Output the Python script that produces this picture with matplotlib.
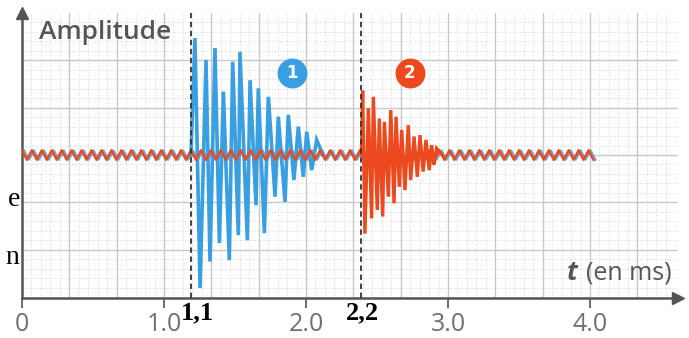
import numpy as np
import matplotlib.pyplot as plt

# sound 1 (blue) : peak times in ms and amplitudes (grid units)
blue_pos_t = [1.218, 1.296, 1.359, 1.418, 1.484, 1.535, 1.606, 1.664, 1.735, 1.805, 1.875, 1.946, 2.005, 2.075]
blue_pos_a = [2.47, 2.01, 2.26, 1.34, 1.97, 2.18, 1.58, 1.41, 1.23, 0.81, 0.85, 0.60, 0.49, 0.32]
blue_neg_t = [1.254, 1.324, 1.390, 1.460, 1.523, 1.587, 1.648, 1.707, 1.782, 1.852, 1.915, 1.981, 2.040]
blue_neg_a = [-2.81, -2.25, -1.86, -2.22, -1.69, -1.80, -1.06, -1.65, -0.88, -0.99, -0.53, -0.46, -0.32]

# sound 2 (red)
red_pos_t = [2.399, 2.439, 2.474, 2.516, 2.552, 2.597, 2.634, 2.674, 2.720, 2.761, 2.803, 2.845, 2.885, 2.920]
red_pos_a = [1.36, 0.99, 1.23, 0.77, 0.70, 0.95, 0.81, 0.53, 0.63, 0.39, 0.42, 0.32, 0.21, 0.14]
red_neg_t = [2.415, 2.462, 2.502, 2.540, 2.580, 2.620, 2.657, 2.697, 2.737, 2.784, 2.825, 2.868, 2.901]
red_neg_a = [-1.66, -1.34, -1.16, -1.30, -0.88, -1.02, -0.67, -0.74, -0.53, -0.46, -0.35, -0.32, -0.21]

burst_start = [1.19, 2.39]
burst_end = [2.12, 2.96]
# background hum
hum_period = 0.07
hum_amp = 0.1
hum_end = 4.06

xtick_vals = [0, 1, 2, 3, 4]
xtick_labels = ["0", "1.0", "2.0", "3.0", "4.0"]
marks = [1.19, 2.39]
mark_labels = ["1,1", "2,2"]
mark_label_x = [1.232, 2.394]

blue = "#3a9fe0"
red = "#ec4a1e"
grey = "#555555"


def burst(t0, t1, pt, pa, nt, na):
    t = np.array([t0] + pt + nt + [t1])
    a = np.array([0] + pa + na + [0])
    o = np.argsort(t)
    return t[o], a[o]


fig = plt.figure(figsize=(6.89, 3.38), dpi=100)
ax = fig.add_axes([22 / 689, 40 / 338, 656 / 689, 285 / 338])
ax.set_xlim(0, 656 / 142)
ax.set_ylim(-3.02, 3.0)

# squared paper
for x in np.arange(0, 4.6, 1 / 15):
    ax.axvline(x, color="#cccccc", lw=0.6, ls=(0, (1, 2)), zorder=0)
for y in np.arange(-3, 2.95, 0.2):
    ax.axhline(y, color="#cccccc", lw=0.6, ls=(0, (1, 2)), zorder=0)
for x in np.arange(1 / 3, 4.6, 1 / 3):
    ax.axvline(x, color="#c8c8c8", lw=1.0, zorder=0)
for y in [-2, -1, 0, 1, 2]:
    ax.axhline(y, color="#c8c8c8", lw=1.0, zorder=0)

# hum
n = int(hum_end / (hum_period / 2))
ht = np.arange(n + 1) * hum_period / 2
ha = np.tile([hum_amp, -hum_amp], n // 2 + 1)[: n + 1]
ax.plot(ht + 0.015, ha, color=blue, lw=1.4, alpha=0.8, zorder=2)

bt, ba = burst(burst_start[0], burst_end[0], blue_pos_t, blue_pos_a, blue_neg_t, blue_neg_a)
ax.plot(bt, ba, color=blue, lw=2.6, zorder=3, solid_joinstyle="miter")
ax.plot(ht, ha, color=red, lw=1.8, zorder=4)
rt, ra = burst(burst_start[1], burst_end[1], red_pos_t, red_pos_a, red_neg_t, red_neg_a)
ax.plot(rt, ra, color=red, lw=2.4, zorder=5, solid_joinstyle="miter")

for m in marks:
    ax.axvline(m, color="#333333", lw=1.3, ls=(0, (3, 2)), zorder=6)

# numbered circles
ax.scatter([1.90], [1.73], s=420, color=blue, zorder=7)
ax.scatter([2.73], [1.73], s=420, color=red, zorder=7)
ax.text(1.90, 1.73, "1", color="white", fontsize=12, fontweight="bold", ha="center", va="center", zorder=8)
ax.text(2.73, 1.73, "2", color="white", fontsize=12, fontweight="bold", ha="center", va="center", zorder=8)

# axes with arrows
for s in ax.spines.values():
    s.set_visible(False)
ax.plot([0, 1], [0, 0], transform=ax.transAxes, color=grey, lw=1.8, clip_on=False)
ax.plot([0, 0], [0, 1], transform=ax.transAxes, color=grey, lw=1.8, clip_on=False)
ax.plot(1, 0, ">", transform=ax.transAxes, color=grey, ms=8, clip_on=False)
ax.plot(0, 1, "^", transform=ax.transAxes, color=grey, ms=8, clip_on=False)

ax.set_xticks(xtick_vals)
ax.set_xticklabels(xtick_labels, fontfamily="Open Sans", fontsize=18, color="#707070")
ax.tick_params(axis="x", length=7, width=1.2, color=grey, pad=3)
ax.set_yticks([])

ax.text(0.12, 2.58, "Amplitude", fontfamily="Open Sans", fontsize=19, fontweight="semibold",
        color=grey, va="center", ha="left", zorder=9)
ax.text(4.577, -2.49, "(en ms)", fontfamily="Open Sans", fontsize=18, color=grey, ha="right", va="center")
ax.text(3.84, -2.49, "t", fontfamily="Open Sans", fontsize=19, fontweight="bold", fontstyle="italic",
        color=grey, ha="left", va="center")

for m, lab in zip(mark_label_x, mark_labels):
    ax.text(m, -3.34, lab, fontfamily="Liberation Serif", fontsize=19, fontweight="bold",
            color="black", ha="center", va="center", clip_on=False)

fig.text(14 / 689, 1 - 200 / 338, "e", fontfamily="Liberation Serif", fontsize=20, ha="center", va="center")
fig.text(12 / 689, 1 - 258 / 338, "n", fontfamily="Liberation Serif", fontsize=20, ha="center", va="center")

fig.savefig("out.png", dpi=100)
